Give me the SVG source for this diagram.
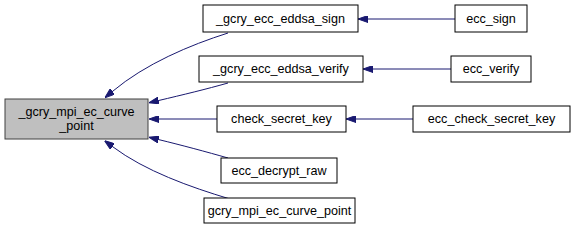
<svg xmlns="http://www.w3.org/2000/svg" width="576" height="240" viewBox="0 0 576 240">
  <style>
    .node rect { fill: #ffffff; stroke: #000000; stroke-width: 1; }
    .node.focus rect { fill: #bfbfbf; stroke: #404040; }
    .node text { font-family: "Liberation Sans", Arial, sans-serif; font-size: 12.6px; text-anchor: middle; fill: #000000; }
    .edges path { fill: none; stroke: #191970; stroke-width: 1; }
  </style>
  <defs>
    <marker id="arrow" viewBox="0 0 10 7" refX="0" refY="3.5" markerWidth="10" markerHeight="7" markerUnits="userSpaceOnUse" orient="auto">
      <path d="M0,0 L10,3.5 L0,7 Z" fill="#191970" stroke="#191970" stroke-width="1"/>
    </marker>
  </defs>
  <rect width="576" height="240" fill="#ffffff"/>

  <g class="edges">
    <path d="M228,33 C190,45 145,64 112.5,91.4" marker-end="url(#arrow)"/>
    <path d="M228,83 C207,89 182,95 158.7,100.5" marker-end="url(#arrow)"/>
    <path d="M217,119 L159,119" marker-end="url(#arrow)"/>
    <path d="M228,158 C207,152 181,145 158.7,139.6" marker-end="url(#arrow)"/>
    <path d="M230,199 C190,187 145,171 112.5,146.6" marker-end="url(#arrow)"/>
    <path d="M455,19 L368,19" marker-end="url(#arrow)"/>
    <path d="M451,69 L373,69" marker-end="url(#arrow)"/>
    <path d="M413,119 L356,119" marker-end="url(#arrow)"/>
  </g>

  <g id="node-gcry_mpi_ec_curve_point_internal" class="node focus">
    <rect x="5" y="99" width="143" height="40"/>
    <text x="76.5" y="115.5">_gcry_mpi_ec_curve</text>
    <text x="76.5" y="130">_point</text>
  </g>
  <g id="node-gcry_ecc_eddsa_sign" class="node">
    <rect x="203" y="5" width="155" height="27"/>
    <text x="280.5" y="23">_gcry_ecc_eddsa_sign</text>
  </g>
  <g id="node-gcry_ecc_eddsa_verify" class="node">
    <rect x="199" y="56" width="164" height="26"/>
    <text x="281" y="73">_gcry_ecc_eddsa_verify</text>
  </g>
  <g id="node-check_secret_key" class="node">
    <rect x="217" y="106" width="129" height="26"/>
    <text x="281.5" y="123">check_secret_key</text>
  </g>
  <g id="node-ecc_decrypt_raw" class="node">
    <rect x="221" y="158" width="116" height="25"/>
    <text x="279" y="175">ecc_decrypt_raw</text>
  </g>
  <g id="node-gcry_mpi_ec_curve_point" class="node">
    <rect x="204" y="198" width="151" height="25"/>
    <text x="279.5" y="215">gcry_mpi_ec_curve_point</text>
  </g>
  <g id="node-ecc_sign" class="node">
    <rect x="455" y="5" width="72" height="27"/>
    <text x="491" y="23">ecc_sign</text>
  </g>
  <g id="node-ecc_verify" class="node">
    <rect x="451" y="56" width="80" height="26"/>
    <text x="491" y="73">ecc_verify</text>
  </g>
  <g id="node-ecc_check_secret_key" class="node">
    <rect x="413" y="106" width="157" height="26"/>
    <text x="491.5" y="123">ecc_check_secret_key</text>
  </g>
</svg>
